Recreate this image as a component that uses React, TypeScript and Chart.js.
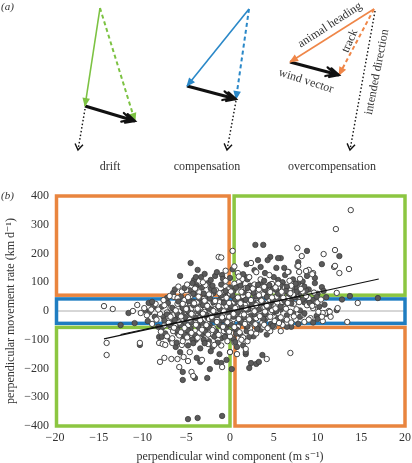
import React, { useEffect, useRef } from 'react';
import { Chart, registerables } from 'chart.js';
Chart.register(...registerables);

const FONT = '"Liberation Serif", "DejaVu Serif", "Times New Roman", serif';
const TEXT = '#333333';

// ---------- panel (a): schematic vectors (diagram units = pixels of a 412x175 frame)
const panelNames = ['drift', 'compensation', 'overcompensation'];
const panelColors = ['#7cc242', '#2a88c8', '#ef8648'];
const headingStarts: [number, number][] = [[100, 8], [249, 9], [374, 9]];
const headingEnds: [number, number][] = [[85, 106], [187, 86], [290, 62]];
const trackEnds: [number, number][] = [[135, 121], [236, 99], [339, 75]];
const intendedStarts: [number, number][] = [[85, 109], [236, 101], [375, 11]];
const intendedEnds: [number, number][] = [[78, 150], [227, 150], [350, 150]];

const diagramLabels = [
  { text: 'drift', x: 110, y: 167, angle: 0 },
  { text: 'compensation', x: 207, y: 167, angle: 0 },
  { text: 'overcompensation', x: 332, y: 167, angle: 0 },
  { text: 'animal heading', x: 330, y: 25, angle: -33 },
  { text: 'track', x: 350, y: 41, angle: -66 },
  { text: 'intended direction', x: 377, y: 72, angle: -79 },
  { text: 'wind vector', x: 306, y: 81, angle: 18 },
];

// ---------- panel (b): data
const xTicksMin = -20;
const xTicksMax = 20;
const yTicksMin = -400;
const yTicksMax = 400;

const boxXMin = [-20, 0.3, -20, -20, 0.4];
const boxXMax = [-0.1, 20, 20, 0, 20];
const boxYMin = [55, 55, -43, -400, -400];
const boxYMax = [400, 400, 42, -57, -57];
const boxColors = ['#e9853f', '#8cc641', '#1f7dc1', '#8cc641', '#e9853f'];

const fitLineA: [number, number][] = [[-14.4, -97], [17, 111]];
const fitLineB: [number, number][] = [[-12.5, -82], [8, 52]];

const openPoints: [number, number][] = [
  [-14.4, 17], [-13.4, 7], [-11.1, 0], [-10.6, 21], [-10.2, -7], [-6.4, 49], [-5.0, 73], [-1.3, 188], [-1.0, 186],
  [13.8, 351], [12.1, 285], [0.3, 209], [7.7, 219], [8.2, 191], [10.7, 198], [12.0, 212], [11.9, 153], [13.6, 146],
  [12.5, 132], [7.7, 157], [9.0, 143], [9.5, 132], [7.9, 136], [12.2, 63], [14.6, 28], [12.3, 10], [11.3, 0], [10.9, -7],
  [9.9, 31], [2.4, 167], [6.6, 136], [7.8, 157], [8.7, 139], [9.4, 128], [0.9, 132], [1.4, 111], [5.5, 80], [4.8, 94],
  [12.0, 157], [1, 100], [2.2, 118], [3.5, 110], [4.5, 125], [6.8, 105], [8, 112], [3, 135], [-0.5, 140], [0.5, 155],
  [-14.1, -111], [-14.1, -153], [-10.3, -111], [-8.1, -111], [-7.7, -115], [-8.0, -177], [-7.5, -163], [-6.7, -167],
  [-6.0, -167], [-5.8, -195], [-4.4, -212], [-4.2, -226], [-4.8, -174], [-3.2, -170], [-0.9, -195], [0, -143], [0.8, -150],
  [1.8, -132], [4.2, -167], [6.9, -146], [5.8, -70], [8.5, -38], [10.6, -35], [13.4, -38], [10.6, -7], [11.4, -3],
  [-5.3, -160], [-4.6, -143], [-5.5, -118], [-6.6, -111], [-7.4, -118], [7.5, -30], [9.2, -25], [11.5, -20], [6.5, -40],
  [-6, 45], [-5.2, 38], [-4.5, 52], [-3.8, 30], [-3, 42], [-2.2, 55], [-1.5, 35], [-0.8, 48], [0, 60], [0.7, 40], [1.5, 52],
  [2.2, 65], [3, 45], [3.8, 58], [4.5, 70], [5.3, 50], [6, 62], [6.8, 75], [7.5, 55], [8.3, 68],
  [-7.5, 20], [-6.8, 10], [-6, 25], [-5.3, 15], [-4.6, 28], [-3.9, 8], [-3.2, 20], [-2.5, 12], [-1.8, 25], [-1.1, 5],
  [-0.4, 18], [0.3, 28], [1, 10], [1.7, 22], [2.4, 35], [3.1, 15], [3.8, 28], [4.5, 40], [5.2, 20], [5.9, 32], [6.6, 45],
  [7.3, 25], [8, 38], [8.8, 20], [9.5, 10],
  [-8, -10], [-7.2, -5], [-6.5, -15], [-5.8, -2], [-5, -20], [-4.3, -8], [-3.6, -25], [-2.9, -3], [-2.2, -15], [-1.5, -30],
  [-0.8, -8], [-0.1, -20], [0.6, -2], [1.3, -12], [2, 5], [2.7, -5], [3.4, 8], [4.1, -10], [4.8, 3], [5.5, -8], [6.2, 12],
  [6.9, -3], [7.6, 6], [8.4, -12],
  [-7, -35], [-6.2, -45], [-5.5, -30], [-4.8, -50], [-4, -38], [-3.3, -55], [-2.6, -42], [-1.9, -60], [-1.2, -48],
  [-0.5, -65], [0.2, -40], [0.9, -55], [1.6, -30], [2.3, -45], [3, -25], [3.7, -40], [4.4, -20], [5.1, -35], [5.8, -22],
  [6.5, -30],
  [-6.5, -70], [-5.8, -85], [-5, -65], [-4.3, -90], [-3.5, -75], [-2.8, -95], [-2.1, -80], [-1.4, -100], [-0.7, -70],
  [0, -88], [0.8, -75], [1.5, -92], [2.3, -60], [3, -78], [3.8, -55], [4.6, -70],
  [-4, 78], [-2.8, 90], [-1.6, 72], [-0.5, 85], [0.5, 95], [1.8, 80], [2.8, 92], [4, 85], [5.5, 95], [7, 88], [-5.5, 68],
  [-3.5, 65], [-0.2, 75], [3.3, 75], [6.3, 82],
  [-9, 5], [-9.5, -15], [-8.5, 25], [9, 45], [10, 30], [10.5, -20], [-6.8, -55], [-7.5, -50], [5, -55], [6, -48], [7, -40],
  [-1, -120], [0.5, -110], [-2.5, -115], [2, -105], [1, 120], [-0.5, 105],
  [-3.4, 12], [-1.2, 30], [0.9, 15], [2.9, 52], [-2.4, -28], [0.4, -28], [2.6, 18], [-4.2, -15], [1.9, -20], [-0.9, 62],
];

const openCore: [number, number][] = [
  [-4.8, 48], [-3.6, 50], [-2.4, 58], [-1.2, 62], [0.1, 68], [1.3, 67], [2.6, 78], [3.9, 84], [5.2, 82],
  [-5.4, 25], [-4.1, 27], [-2.9, 36], [-1.7, 35], [-0.4, 46], [0.9, 47], [2.1, 56], [3.3, 55], [4.6, 66], [5.9, 67],
  [-6.2, 2], [-5, 7], [-3.7, 8], [-2.6, 18], [-1.3, 17], [-0.1, 28], [1.2, 27], [2.4, 38], [3.6, 36], [4.8, 47], [6.1, 46], [7.2, 57],
  [-6.8, -20], [-5.6, -19], [-4.4, -10], [-3.1, -9], [-1.9, 0], [-0.7, -1], [0.6, 10], [1.8, 9], [3, 20], [4.2, 19], [5.4, 30], [6.6, 28],
  [-7, -41], [-5.8, -40], [-4.6, -30], [-3.4, -32], [-2.1, -20], [-0.9, -22], [0.4, -10], [1.6, -12], [2.8, -1], [4, -2], [5.2, 9], [6.4, 8],
  [-6.4, -58], [-5.2, -59], [-3.9, -48], [-2.7, -49], [-1.5, -38], [-0.3, -39], [1, -28], [2.2, -29], [3.4, -18], [4.6, -20],
  [-5.6, -74], [-4.4, -76], [-3.2, -65], [-2, -66], [-0.8, -55], [0.5, -56], [1.7, -45], [2.9, -46],
  [-4.9, -92], [-3.7, -93], [-2.5, -82], [-1.3, -83], [-0.1, -72], [1.1, -74],
  [7.9, 31], [8.7, 52], [9.4, 18], [10.1, -3], [9, -30], [7.3, -19], [6.9, 62], [8.1, 77], [9.6, 64], [10.4, 40],
  [-8.4, -30], [-8.9, -45], [-7.9, -72], [-7.2, -88], [-6.6, -95], [-5.4, -105], [-8.2, 5], [-9.8, 10], [-7.6, 38],
  [-6.9, 52], [-5.9, 85], [-4.9, 92], [-3.1, 100], [3.9, -48], [5.6, -42], [4.3, -60], [2.4, -75], [1.3, -100],
  [-0.3, -105], [-1.8, -118],
];

const darkPoints: [number, number][] = [
  [-11.6, -7], [-9.7, 3], [-9.3, 28], [-8.7, 14], [-5.7, 122], [-4.5, 167], [-3.7, 143], [-3.3, 118], [-2.9, 129],
  [-4.1, 108], [-3.8, 90], [-6.5, 63], [-2.5, 97], [-1.7, 122], [-0.9, 125], [-4.3, 97], [-3.9, 83],
  [2.9, 230], [3.8, 230], [8.8, 209], [4.6, 188], [5.8, 184], [12.5, 191], [10.5, 163], [7.8, 170], [8.8, 122], [9.7, 97],
  [10.5, 83], [16.9, 45], [13.7, 52], [9.9, -17], [6.9, 83], [5.5, 184], [4.3, 177], [1.9, 163], [3.2, 177], [3.5, 153],
  [5.3, 150], [6.2, 150], [9.7, 115], [7.8, 97], [7.5, 83], [1.8, 118], [5.5, 108], [6.3, 125], [6.7, 136],
  [1.5, 128], [2.8, 142], [4, 132], [5, 118], [6, 98], [7.2, 110], [8.3, 103], [-1.5, 135], [0.3, 145], [-2.2, 108],
  [-0.8, 112], [9, 75], [10, 60], [11, 48], [12.8, 40],
  [-12.5, -49], [-10.9, -42], [-10.3, -118], [-8.1, -90], [-7.8, -90], [-5.4, -212], [-5.4, -240], [-4.0, -233],
  [-2.6, -233], [-2.3, -202], [-3.4, -177], [-3.8, -163], [-1.5, -177], [-1.0, -181], [-0.4, -170], [0.2, -202],
  [-4.8, -376], [-3.7, -372], [-0.9, -365], [1.8, -150], [2.2, -198], [2.4, -181], [3.0, -184], [3.3, -177], [3.7, -153],
  [0, -143], [1.8, -143], [12.2, 3], [-6.2, -125], [-5.7, -143], [8, -20], [10, -28], [7, -55],
  [-5.6, 50], [-4.9, 42], [-4.1, 60], [-3.4, 35], [-2.6, 48], [-1.9, 62], [-1.1, 40], [-0.3, 52], [0.4, 70], [1.1, 45],
  [1.9, 58], [2.6, 72], [3.4, 50], [4.1, 62], [4.9, 78], [5.6, 55], [6.4, 68], [7.1, 80], [7.9, 60], [8.7, 72],
  [-7.8, 15], [-7.1, 28], [-6.4, 5], [-5.6, 22], [-4.9, 10], [-4.2, 32], [-3.5, 15], [-2.8, 25], [-2.1, 5], [-1.4, 18],
  [-0.7, 30], [0, 8], [0.7, 20], [1.4, 32], [2.1, 12], [2.8, 25], [3.5, 38], [4.2, 18], [4.9, 30], [5.6, 42], [6.3, 20],
  [7, 35], [7.7, 48], [8.5, 30], [9.2, 22],
  [-7.6, -20], [-6.9, -12], [-6.2, -28], [-5.5, -5], [-4.7, -15], [-4, -30], [-3.3, -12], [-2.6, -22], [-1.9, -8],
  [-1.2, -18], [-0.5, -35], [0.2, -10], [0.9, -25], [1.6, 0], [2.3, -18], [3, 2], [3.7, -15], [4.4, 10], [5.1, -5],
  [5.8, 5], [6.5, -15], [7.2, -8], [8, 2],
  [-6.8, -40], [-6, -55], [-5.2, -42], [-4.5, -60], [-3.7, -48], [-3, -65], [-2.3, -50], [-1.6, -70], [-0.9, -55],
  [-0.2, -45], [0.5, -62], [1.2, -42], [1.9, -55], [2.6, -35], [3.3, -50], [4, -30], [4.7, -45], [5.4, -28], [6.1, -38],
  [-6, -78], [-5.3, -95], [-4.6, -75], [-3.9, -100], [-3.1, -82], [-2.4, -105], [-1.7, -88], [-1, -95], [-0.3, -80],
  [0.4, -98], [1.2, -82], [1.9, -70], [2.7, -88], [3.5, -65], [4.2, -82],
  [-3.2, 82], [-2.2, 78], [-1, 92], [0, 82], [1.2, 100], [2.3, 88], [3.5, 98], [4.6, 92], [6, 100], [-4.6, 72],
  [-0.7, 66], [2.9, 82], [5.8, 88], [7.5, 95], [8.5, 85],
  [-9.2, -5], [-8.8, 15], [9.5, 38], [10.2, 15], [11, -10], [-7.8, -60], [6.5, -55], [-2, -125], [1.5, -120], [0, 115],
  [2, 110], [-6.8, -100], [-4.8, -120], [-3.4, -130], [-2.2, -140], [-1.2, -150], [0.8, -125],
];

const darkCore: [number, number][] = [
  [-4.2, 60], [-3, 61], [-1.8, 71], [-0.5, 70], [0.7, 81], [2, 80], [3.2, 91], [4.5, 90],
  [-5.9, 33], [-4.7, 34], [-3.5, 44], [-2.3, 43], [-1, 54], [0.3, 53], [1.5, 64], [2.7, 63], [4, 74], [5.3, 73], [6.5, 84],
  [-6.6, 11], [-5.4, 10], [-4.2, 21], [-3.1, 20], [-1.9, 30], [-0.7, 29], [0.6, 40], [1.8, 39], [3, 50], [4.2, 49], [5.5, 60], [6.8, 59],
  [-7.2, -12], [-6, -11], [-4.8, -1], [-3.6, -2], [-2.4, 8], [-1.2, 7], [0.1, 18], [1.3, 17], [2.5, 28], [3.7, 27], [4.9, 38], [6.2, 37], [7.4, 48],
  [-7.5, -33], [-6.3, -32], [-5.1, -22], [-3.9, -24], [-2.7, -13], [-1.5, -14], [-0.3, -3], [0.9, -4], [2.1, 6], [3.3, 5], [4.5, 16], [5.8, 15], [7, 26],
  [-6.8, -50], [-5.6, -49], [-4.4, -40], [-3.2, -41], [-2, -30], [-0.8, -31], [0.4, -20], [1.6, -22], [2.8, -11], [4, -12], [5.3, -1],
  [-6, -66], [-4.8, -67], [-3.6, -56], [-2.4, -58], [-1.2, -47], [0.1, -48], [1.3, -37], [2.5, -38], [3.8, -27],
  [-5.2, -83], [-4, -84], [-2.8, -73], [-1.6, -74], [-0.4, -64], [0.8, -65], [2, -54],
  [-4.3, -99], [-3, -100], [-1.8, -89], [-0.6, -90], [0.7, -79],
  [8.3, 40], [9.1, 28], [9.9, 50], [10.8, 22], [8.5, -8], [9.5, -40], [7.8, -45], [6.4, 70], [7.6, 66], [10.7, 70],
  [-8.6, -20], [-9.4, -35], [-8.2, -55], [-7.4, -78], [-6.1, -110], [-4.2, -112], [-8.9, 32], [-7.2, 45], [-6.3, 75],
  [-5.2, 80], [-3.9, 118], [-2, 88], [4.9, -52], [3.1, -62], [2.2, -90], [0.6, -108], [-1.4, -110], [-2.9, -112],
  [1.2, 88], [3.9, 105],
];

const fmtTick = (v: number | string) => {
  const n = Number(v);
  return n < 0 ? '\u2212' + Math.abs(n) : String(n);
};

const toXY = (arr: [number, number][]) => arr.map(([x, y]) => ({ x, y }));

function drawHead(ctx: CanvasRenderingContext2D, x0: number, y0: number, x1: number, y1: number, kind: string, color: string) {
  const a = Math.atan2(y1 - y0, x1 - x0);
  ctx.save();
  ctx.translate(x1, y1);
  ctx.rotate(a);
  ctx.setLineDash([]);
  if (kind === 'fill') {
    ctx.fillStyle = color;
    ctx.beginPath();
    ctx.moveTo(1, 0);
    ctx.lineTo(-8, -3.8);
    ctx.lineTo(-8, 3.8);
    ctx.closePath();
    ctx.fill();
  } else if (kind === 'wind') {
    ctx.strokeStyle = color;
    ctx.lineWidth = 2.2;
    ctx.lineCap = 'round';
    ctx.beginPath();
    ctx.moveTo(-9, -4.5);
    ctx.lineTo(0, 0);
    ctx.lineTo(-9, 4.5);
    ctx.moveTo(-13, -4.5);
    ctx.lineTo(-4, 0);
    ctx.lineTo(-13, 4.5);
    ctx.stroke();
  } else if (kind === 'open') {
    ctx.strokeStyle = color;
    ctx.lineWidth = 1.4;
    ctx.beginPath();
    ctx.moveTo(-6, -4);
    ctx.lineTo(0, 0);
    ctx.lineTo(-6, 4);
    ctx.stroke();
  }
  ctx.restore();
}

const arrowPlugin = {
  id: 'arrowHeads',
  afterDatasetsDraw(chart: any) {
    const ctx = chart.ctx as CanvasRenderingContext2D;
    chart.data.datasets.forEach((ds: any, i: number) => {
      const meta = chart.getDatasetMeta(i);
      const pts = meta.data;
      if (!ds.head || pts.length < 2) return;
      drawHead(ctx, pts[0].x, pts[0].y, pts[1].x, pts[1].y, ds.head, ds.borderColor);
    });
  },
  afterDraw(chart: any) {
    const ctx = chart.ctx as CanvasRenderingContext2D;
    const xs = chart.scales.x;
    const ys = chart.scales.y;
    ctx.save();
    ctx.fillStyle = TEXT;
    ctx.font = `12px ${FONT}`;
    ctx.textAlign = 'center';
    ctx.textBaseline = 'middle';
    diagramLabels.forEach((l) => {
      ctx.save();
      ctx.translate(xs.getPixelForValue(l.x), ys.getPixelForValue(l.y));
      ctx.rotate((l.angle * Math.PI) / 180);
      ctx.fillText(l.text, 0, 0);
      ctx.restore();
    });
    ctx.font = `italic 11px ${FONT}`;
    ctx.textAlign = 'left';
    ctx.fillText('(a)', 1, 7);
    ctx.restore();
  },
};

const boxPlugin = {
  id: 'quadrantBoxes',
  beforeDatasetsDraw(chart: any) {
    const ctx = chart.ctx as CanvasRenderingContext2D;
    const xs = chart.scales.x;
    const ys = chart.scales.y;
    ctx.save();
    ctx.strokeStyle = '#9a9a9a';
    ctx.lineWidth = 0.8;
    ctx.beginPath();
    ctx.moveTo(xs.getPixelForValue(xTicksMin), ys.getPixelForValue(0));
    ctx.lineTo(xs.getPixelForValue(xTicksMax), ys.getPixelForValue(0));
    ctx.stroke();
    boxColors.forEach((c, i) => {
      const x0 = xs.getPixelForValue(boxXMin[i]);
      const x1 = xs.getPixelForValue(boxXMax[i]);
      const y0 = ys.getPixelForValue(boxYMax[i]);
      const y1 = ys.getPixelForValue(boxYMin[i]);
      ctx.strokeStyle = c;
      ctx.lineWidth = 3.5;
      ctx.strokeRect(x0 + 1.5, y0, x1 - x0 - 1.5, y1 - y0);
    });
    ctx.restore();
  },
  afterDraw(chart: any) {
    const ctx = chart.ctx as CanvasRenderingContext2D;
    ctx.save();
    ctx.fillStyle = TEXT;
    ctx.font = `italic 11px ${FONT}`;
    ctx.textBaseline = 'middle';
    ctx.fillText('(b)', 1, chart.chartArea.top);
    ctx.restore();
  },
};

export default function App() {
  const refA = useRef<HTMLCanvasElement>(null);
  const refB = useRef<HTMLCanvasElement>(null);

  useEffect(() => {
    const datasetsA: any[] = [];
    panelNames.forEach((_, i) => {
      const col = panelColors[i];
      datasetsA.push({
        data: toXY([headingStarts[i], headingEnds[i]]),
        borderColor: col, borderWidth: 1.6, pointRadius: 0, head: 'fill',
      });
      datasetsA.push({
        data: toXY([headingStarts[i], trackEnds[i]]),
        borderColor: col, borderWidth: 2, borderDash: [4, 3], pointRadius: 0, head: 'fill',
      });
      datasetsA.push({
        data: toXY([headingEnds[i], trackEnds[i]]),
        borderColor: '#111111', borderWidth: 3, pointRadius: 0, head: 'wind',
      });
      datasetsA.push({
        data: toXY([intendedStarts[i], intendedEnds[i]]),
        borderColor: '#111111', borderWidth: 1.4, borderDash: [1.5, 2.2], pointRadius: 0, head: 'open',
      });
    });

    const chartA = new Chart(refA.current!, {
      type: 'line',
      data: { datasets: datasetsA },
      options: {
        animation: false,
        responsive: false,
        layout: { padding: 0 },
        plugins: { legend: { display: false }, tooltip: { enabled: false } },
        scales: {
          x: { type: 'linear', min: 0, max: 412, display: false },
          y: { type: 'linear', min: 0, max: 175, reverse: true, display: false },
        },
      } as any,
      plugins: [arrowPlugin],
    });

    const openStyle = { backgroundColor: '#ffffff', borderColor: '#444444', borderWidth: 1, pointRadius: 2.7 };
    const darkStyle = { backgroundColor: '#5b5b5b', borderColor: '#3c3c3c', borderWidth: 0.8, pointRadius: 2.7 };

    const chartB = new Chart(refB.current!, {
      type: 'scatter',
      data: {
        datasets: [
          { type: 'line', data: toXY(fitLineA), borderColor: '#111', borderWidth: 1.1, pointRadius: 0 } as any,
          { type: 'line', data: toXY(fitLineB), borderColor: '#111', borderWidth: 1.1, pointRadius: 0 } as any,
          { data: toXY(openCore), ...openStyle },
          { data: toXY(darkCore), ...darkStyle },
          { data: toXY(openPoints), ...openStyle },
          { data: toXY(darkPoints), ...darkStyle },
        ],
      },
      options: {
        animation: false,
        responsive: false,
        layout: { padding: { top: 21, right: 7, left: 0, bottom: 0 } },
        plugins: { legend: { display: false }, tooltip: { enabled: false } },
        scales: {
          x: {
            type: 'linear', min: xTicksMin, max: xTicksMax,
            grid: { display: false, drawTicks: false }, border: { display: false },
            ticks: { stepSize: 5, color: TEXT, font: { family: FONT, size: 12 }, padding: 5, maxRotation: 0, callback: fmtTick },
            title: {
              display: true, text: 'perpendicular wind component (m s\u207B\u00B9)', color: TEXT,
              font: { family: FONT, size: 12, lineHeight: 1 }, padding: { top: 0, bottom: 0 },
            },
            afterFit: (s: any) => { s.height = 37; s.paddingLeft = 0; s.paddingRight = 0; },
          },
          y: {
            type: 'linear', min: yTicksMin, max: yTicksMax,
            grid: { display: false, drawTicks: false }, border: { display: false },
            ticks: { stepSize: 100, color: TEXT, font: { family: FONT, size: 12 }, padding: 6, callback: fmtTick },
            title: {
              display: true, text: 'perpendicular movement rate (km d\u207B\u00B9)', color: TEXT,
              font: { family: FONT, size: 12, lineHeight: 1 }, padding: { top: 5, bottom: 0 },
            },
            afterFit: (s: any) => { s.width = 55; s.paddingTop = 0; s.paddingBottom = 0; },
          },
        },
      } as any,
      plugins: [boxPlugin],
    });

    return () => {
      chartA.destroy();
      chartB.destroy();
    };
  }, []);

  return (
    <div style={{ position: 'absolute', left: 0, top: 0, width: 412, height: 463, background: '#fff' }}>
      <canvas ref={refA} width={412} height={175} style={{ position: 'absolute', left: 0, top: 0, width: 412, height: 175 }} />
      <canvas ref={refB} width={412} height={288} style={{ position: 'absolute', left: 0, top: 175, width: 412, height: 288 }} />
    </div>
  );
}
